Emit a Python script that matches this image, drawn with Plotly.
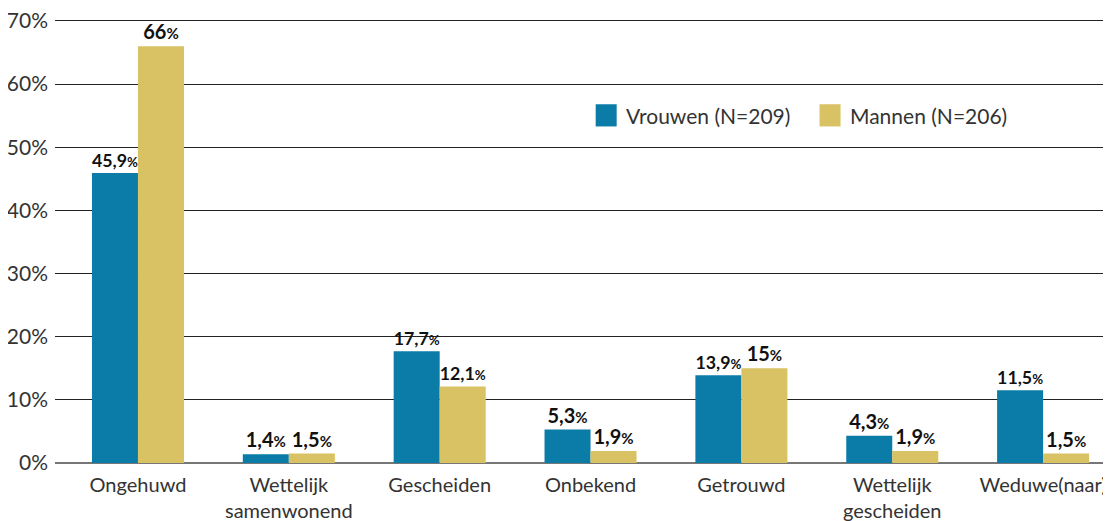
import plotly.graph_objects as go

categories = ["Ongehuwd", "Wettelijk<br>samenwonend", "Gescheiden", "Onbekend",
              "Getrouwd", "Wettelijk<br>gescheiden", "Weduwe(naar)"]
vrouwen = [45.9, 1.4, 17.7, 5.3, 13.9, 4.3, 11.5]
mannen = [66, 1.5, 12.1, 1.9, 15, 1.9, 1.5]
vrouwen_labels = ["45,9", "1,4", "17,7", "5,3", "13,9", "4,3", "11,5"]
mannen_labels = ["66", "1,5", "12,1", "1,9", "15", "1,9", "1,5"]
series_names = ["Vrouwen (N=209)", "Mannen (N=206)"]
colors = ["#0a7ca7", "#d9c264"]
y_ticks = [0, 10, 20, 30, 40, 50, 60, 70]
y_ticklabels = [f"{v}%" for v in y_ticks]

FONT = "Lato"
TXT = "#333"

def fmt(labels):
    return [f"<b>{l}</b><span style='font-size:15px'><b>%</b></span>" for l in labels]

fig = go.Figure()
for name, vals, labs, col in [(series_names[0], vrouwen, vrouwen_labels, colors[0]),
                              (series_names[1], mannen, mannen_labels, colors[1])]:
    fig.add_trace(go.Bar(
        name=name, x=list(range(len(categories))), y=vals,
        marker=dict(color=col, line=dict(width=0)),
        text=fmt(labs), textposition="outside",
        textfont=dict(family=FONT, size=20, color="#111"), cliponaxis=False,
        showlegend=False,
    ))

# custom legend (large square swatches)
legend_x = [0.512, 0.724]
for lx, name, col in zip(legend_x, series_names, colors):
    fig.add_shape(type="rect", xref="paper", yref="paper",
                  x0=lx, x1=lx + 21 / 1056, y0=0.758, y1=0.808,
                  fillcolor=col, line=dict(width=0))
    fig.add_annotation(xref="paper", yref="paper", x=lx + 28 / 1056, y=0.783,
                       xanchor="left", yanchor="middle", showarrow=False,
                       text=name, font=dict(family=FONT, size=21, color=TXT))

# page body has an 8px margin: shrink figure and offset margins accordingly
fig.update_layout(
    width=1103, height=513,
    margin=dict(l=47, r=0, t=11, b=58, autoexpand=False),
    paper_bgcolor="white", plot_bgcolor="white",
    barmode="group", bargap=0.39, bargroupgap=0,
    font=dict(family=FONT, size=21, color=TXT),
    showlegend=False,
    uniformtext=dict(mode=False),
)
fig.update_xaxes(
    range=[-0.55, 6.45], tickmode="array", tickvals=list(range(len(categories))),
    ticktext=categories, showgrid=False, zeroline=False, showline=False,
    ticks="", automargin=False, ticklabelstandoff=8, ticklabeloverflow="allow",
    tickfont=dict(family=FONT, size=20, color=TXT),
)
fig.update_yaxes(
    range=[0, 70.3], tickmode="array", tickvals=y_ticks, ticktext=y_ticklabels,
    showgrid=True, gridcolor="#222", gridwidth=1,
    zeroline=True, zerolinecolor="#777", zerolinewidth=2,
    showline=False, ticks="", ticklabelstandoff=6, automargin=False,
    ticklabeloverflow="allow",
    tickfont=dict(family=FONT, size=21, color=TXT),
)

fig.write_html("out.html")
